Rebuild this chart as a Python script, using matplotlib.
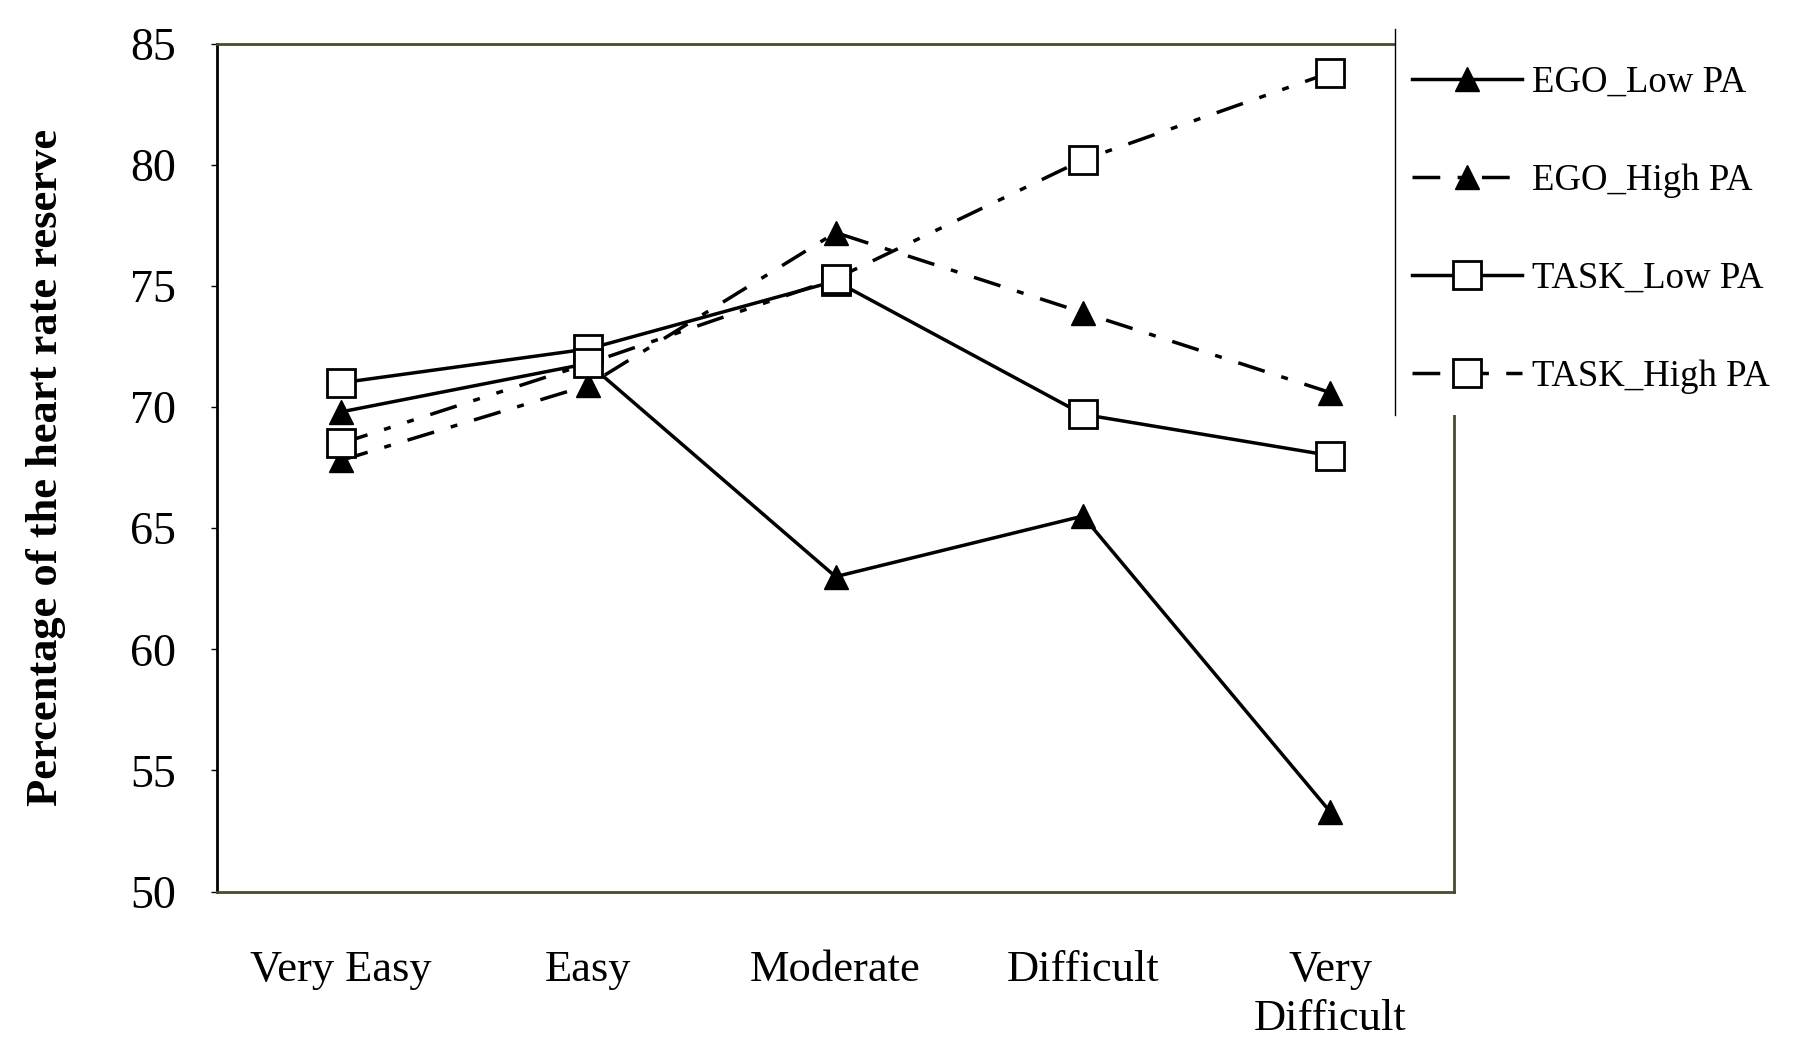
import matplotlib
matplotlib.use('Agg')
import matplotlib.pyplot as plt
from matplotlib.lines import Line2D
from matplotlib.patches import Rectangle

plt.rcParams['font.family'] = ['Liberation Serif', 'DejaVu Serif']

categories = ['Very Easy', 'Easy', 'Moderate', 'Difficult', 'Very\nDifficult']
ego_low = [69.8, 71.8, 63.0, 65.5, 53.3]
ego_high = [67.8, 70.9, 77.2, 73.9, 70.6]
task_low = [71.0, 72.4, 75.2, 69.7, 68.0]
task_high = [68.5, 71.8, 75.3, 80.2, 83.8]
y_ticks = [50, 55, 60, 65, 70, 75, 80, 85]

fig = plt.figure(figsize=(17.97, 10.38), dpi=100)
ax = fig.add_axes([0.121, 0.141, 0.688, 0.817])

x = range(len(categories))
ax.plot(x, ego_low, color='black', linewidth=2.5, marker='^', markersize=17,
        markerfacecolor='black', label='EGO_Low PA', zorder=3)
ax.plot(x, ego_high, color='black', linewidth=2.5, linestyle=(0, (8, 5, 2, 5)), marker='^',
        markersize=17, markerfacecolor='black', label='EGO_High PA', zorder=3)
ax.plot(x, task_low, color='black', linewidth=2.5, marker='s', markersize=20,
        markerfacecolor='white', markeredgewidth=2, label='TASK_Low PA', zorder=4)
ax.plot(x, task_high, color='black', linewidth=2.5, linestyle=(0, (8, 5, 2, 5, 2, 5)), marker='s',
        markersize=20, markerfacecolor='white', markeredgewidth=2, label='TASK_High PA', zorder=4)

ax.set_xlim(-0.5, 4.5)
ax.set_ylim(50, 85)
ax.set_yticks(y_ticks)
ax.set_xticks(list(x))
ax.set_xticklabels(categories, fontsize=32, linespacing=1.3)
ax.tick_params(axis='y', labelsize=33, length=4, width=1, pad=26)
ax.tick_params(axis='x', length=0, pad=42)
ax.set_ylabel('Percentage of the heart rate reserve', fontsize=32, fontweight='bold', labelpad=46)

for side in ['top', 'bottom', 'right']:
    ax.spines[side].set_color('#4a4a30')
    ax.spines[side].set_linewidth(2)
ax.spines['left'].set_color('black')
ax.spines['left'].set_linewidth(2)

# white box behind the legend, covering the right part of the frame
fig.add_artist(Rectangle((0.7765, 0.60), 0.25, 0.375, transform=fig.transFigure,
                         facecolor='white', edgecolor='none', zorder=9))
fig.add_artist(Line2D([0.7765, 0.7765], [0.60, 0.972], transform=fig.transFigure,
                      color='black', linewidth=1, zorder=11))

leg = fig.legend(loc='upper left', bbox_to_anchor=(0.7775, 0.951), fontsize=26.5,
                 handlelength=3.0, handletextpad=0.25, labelspacing=1.72,
                 borderpad=0.4, borderaxespad=0, frameon=False)
leg.set_zorder(10)

fig.savefig('out.png', dpi=100)
